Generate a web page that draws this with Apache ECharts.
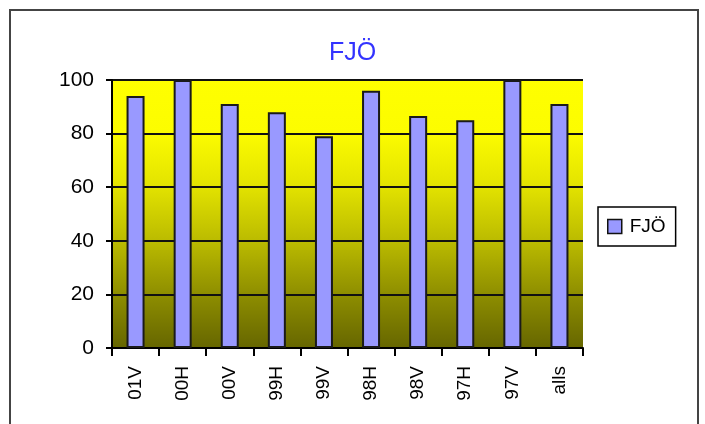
<!DOCTYPE html>
<html><head><meta charset="utf-8">
<script src="https://cdn.jsdelivr.net/npm/echarts@6/dist/echarts.min.js"></script>
<style>html,body{margin:0;padding:0;background:#fff}#c{width:705px;height:424px}
#frame{position:absolute;left:9px;top:9px;width:690px;height:430px;border:2px solid #444;box-sizing:border-box;pointer-events:none}</style>
</head><body><div id="c"></div><div id="frame"></div>
<script>
const categories = ['01V','00H','00V','99H','99V','98H','98V','97H','97V','alls'];
const seriesName = 'FJÖ';
const values = [94, 100, 91, 88, 79, 96, 86.6, 85, 100, 91];
const yTicks = [0, 20, 40, 60, 80, 100];

const chart = echarts.init(document.getElementById('c'));
const font = 'Arial, "Liberation Sans", sans-serif';
chart.setOption({
  animation: false,
  title: {text: 'FJÖ', left: 'center', top: 36, textStyle: {color: '#3333FF', fontSize: 25, fontWeight: 'normal', fontFamily: font}},
  legend: {
    left: 598, top: 207, orient: 'vertical',
    data: [{name: seriesName, icon: 'rect'}],
    itemWidth: 14, itemHeight: 14, itemGap: 4,
    padding: [10, 10, 10, 9],
    borderColor: '#000', borderWidth: 1.5, backgroundColor: '#fff',
    itemStyle: {borderColor: '#111', borderWidth: 1.5},
    textStyle: {fontSize: 19, color: '#000', fontFamily: font, padding: [0, 0, 0, 3]}
  },
  grid: {
    left: 112, right: 122, top: 80, bottom: 76,
    show: true, borderWidth: 0,
    backgroundColor: new echarts.graphic.LinearGradient(0, 0, 0, 1, [
      {offset: 0, color: '#FFFF00'},
      {offset: 0.2, color: '#FCFC00'},
      {offset: 0.4, color: '#E2E200'},
      {offset: 0.6, color: '#BBBB00'},
      {offset: 0.8, color: '#8E8E00'},
      {offset: 1, color: '#666600'}
    ])
  },
  xAxis: {
    type: 'category', data: categories,
    axisLine: {lineStyle: {color: '#000', width: 2}},
    axisTick: {show: true, length: 8, lineStyle: {color: '#000', width: 2}},
    axisLabel: {rotate: 90, fontSize: 19, color: '#000', fontFamily: font, margin: 18}
  },
  yAxis: {
    type: 'value', min: yTicks[0], max: yTicks[yTicks.length-1], interval: 20,
    axisLine: {show: true, lineStyle: {color: '#000', width: 2}},
    axisTick: {show: true, length: 6, lineStyle: {color: '#000', width: 2}},
    splitLine: {lineStyle: {color: '#111', width: 2}},
    axisLabel: {fontSize: 21, color: '#000', fontFamily: font, margin: 18}
  },
  series: [{
    name: seriesName, type: 'bar', data: values, barWidth: 18,
    itemStyle: {color: '#9999FF', borderColor: '#1a1a1a', borderWidth: 2}
  }]
});
</script></body></html>
